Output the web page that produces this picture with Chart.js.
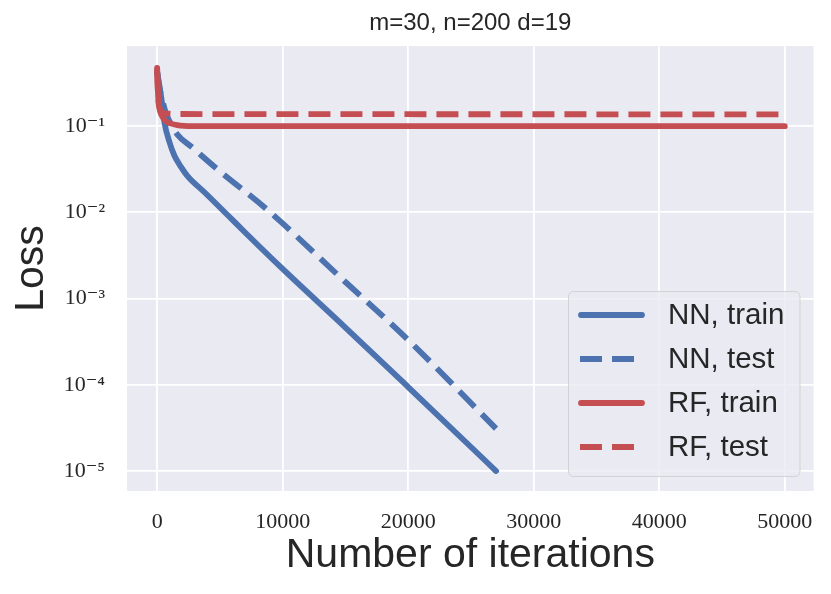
<!DOCTYPE html>
<html>
<head>
<meta charset="utf-8">
<title>Loss vs iterations</title>
<script src="https://cdn.jsdelivr.net/npm/chart.js@4.4.1/dist/chart.umd.min.js"></script>
<style>
  html, body { margin: 0; padding: 0; background: #ffffff; }
  #wrap { width: 831px; height: 594px; position: relative; }
</style>
</head>
<body>
<div id="wrap"><canvas id="lossChart"></canvas></div>
<script>
// --- data ---
const nnTrainIter = [0, 200, 400, 580, 980, 1380, 1900, 2440, 3770, 5630, 7070, 10000, 15000, 20000, 25000, 27000];
const nnTrainLoss = [0.42, 0.28, 0.18, 0.11, 0.065, 0.045, 0.0335, 0.026, 0.017, 0.0092, 0.0057, 0.0022, 4.6e-4, 9.4e-5, 1.9e-5, 1.0e-5];

const nnTestIter = [0, 200, 450, 700, 960, 1590, 2810, 4960, 8660, 15000, 20000, 27000];
const nnTestLoss = [0.42, 0.27, 0.19, 0.14, 0.115, 0.080, 0.056, 0.030, 0.011, 0.00155, 3.3e-4, 3.1e-5];

const rfTrainIter = [0, 40, 100, 200, 320, 500, 750, 1110, 1600, 2170, 3500, 50000];
const rfTrainLoss = [0.47, 0.30, 0.20, 0.155, 0.136, 0.122, 0.112, 0.106, 0.102, 0.100, 0.099, 0.099];

const rfTestIter = [0, 40, 100, 200, 350, 600, 1000, 2000, 50000];
const rfTestLoss = [0.47, 0.30, 0.20, 0.16, 0.145, 0.140, 0.138, 0.137, 0.136];

const seriesLabels = ['NN, train', 'NN, test', 'RF, train', 'RF, test'];
const xTickValues = [0, 10000, 20000, 30000, 40000, 50000];
const yTickValues = [1e-5, 1e-4, 1e-3, 1e-2, 1e-1];
const yTickLabels = ['10\u207B\u2075', '10\u207B\u2074', '10\u207B\u00B3', '10\u207B\u00B2', '10\u207B\u00B9'];
const titleText = 'm=30, n=200 d=19';

// --- style ---
const BLUE = '#4c72b0';
const RED = '#c44e52';
const AXES_BG = '#eaeaf2';
const TEXT = '#262626';
const SANS = '"Liberation Sans", Arial, Helvetica, sans-serif';
const SERIF = '"Liberation Serif", "DejaVu Serif", serif';
const LW = 5.8;
const DASH = [22, 10];

const toPoints = (xs, ys) => xs.map((x, i) => ({ x, y: ys[i] }));

function lineSet(label, xs, ys, color, dashed, order) {
    return {
        label,
        data: toPoints(xs, ys),
        borderColor: color,
        backgroundColor: color,
        borderWidth: LW,
        borderDash: dashed ? DASH : [],
        borderCapStyle: dashed ? 'butt' : 'round',
        borderJoinStyle: 'round',
        pointRadius: 0,
        cubicInterpolationMode: 'monotone',
        fill: false,
        order
    };
}

// axes face colour (seaborn darkgrid)
const axesBgPlugin = {
    id: 'axesBg',
    beforeDraw(chart) {
        const { ctx, chartArea: a } = chart;
        ctx.save();
        ctx.fillStyle = AXES_BG;
        ctx.fillRect(a.left, a.top, a.right - a.left, a.bottom - a.top);
        ctx.restore();
    }
};

// title centred over the plot area, not the whole canvas
const axesTitlePlugin = {
    id: 'axesTitle',
    afterDraw(chart) {
        const { ctx, chartArea: a } = chart;
        ctx.save();
        ctx.font = '24px ' + SANS;
        ctx.fillStyle = TEXT;
        ctx.textAlign = 'center';
        ctx.textBaseline = 'middle';
        ctx.fillText(titleText, (a.left + a.right) / 2, 23);
        ctx.restore();
    }
};

// legend box in the lower right, matplotlib style
const boxLegendPlugin = {
    id: 'boxLegend',
    afterDatasetsDraw(chart) {
        const { ctx } = chart;
        const box = { x: 568.5, y: 291.5, w: 231.5, h: 185, r: 5 };
        ctx.save();
        ctx.beginPath();
        ctx.roundRect(box.x, box.y, box.w, box.h, box.r);
        ctx.fillStyle = 'rgba(234,234,242,0.8)';
        ctx.fill();
        ctx.lineWidth = 1;
        ctx.strokeStyle = 'rgba(204,204,204,0.8)';
        ctx.stroke();

        ctx.font = '29.5px ' + SANS;
        ctx.textBaseline = 'middle';
        ctx.fillStyle = TEXT;
        const rowY = [315, 359, 403, 447];
        chart.data.datasets.forEach((ds, i) => {
            const y = rowY[i];
            ctx.beginPath();
            ctx.strokeStyle = ds.borderColor;
            ctx.lineWidth = ds.borderWidth;
            ctx.setLineDash(ds.borderDash);
            ctx.lineCap = ds.borderCapStyle;
            const dashed = ds.borderDash.length > 0;
            ctx.moveTo(dashed ? 580 : 581, y);
            ctx.lineTo(dashed ? 640 : 642, y);
            ctx.stroke();
            ctx.setLineDash([]);
            ctx.fillText(ds.label, 668, y + 1);
        });
        ctx.restore();
    }
};

const config = {
    type: 'line',
    data: {
        datasets: [
            lineSet(seriesLabels[0], nnTrainIter, nnTrainLoss, BLUE, false, 3),
            lineSet(seriesLabels[1], nnTestIter, nnTestLoss, BLUE, true, 2),
            lineSet(seriesLabels[2], rfTrainIter, rfTrainLoss, RED, false, 1),
            lineSet(seriesLabels[3], rfTestIter, rfTestLoss, RED, true, 0)
        ]
    },
    options: {
        responsive: true,
        maintainAspectRatio: false,
        animation: false,
        layout: { padding: { top: 46, right: 17, bottom: 0, left: 0 } },
        plugins: {
            legend: { display: false },
            title: { display: false },
            tooltip: { enabled: false }
        },
        scales: {
            x: {
                type: 'linear',
                min: -2400,
                max: 52300,
                border: { display: false },
                grid: { color: '#ffffff', lineWidth: 1.8, drawTicks: false },
                ticks: {
                    color: TEXT,
                    font: { family: SERIF, size: 22 },
                    padding: 18,
                    callback: (v) => String(v)
                },
                afterBuildTicks: (scale) => {
                    scale.ticks = xTickValues.map(v => ({ value: v }));
                },
                afterFit: (scale) => { scale.height = 103; },
                title: {
                    display: true,
                    text: 'Number of iterations',
                    color: TEXT,
                    font: { family: SANS, size: 41 },
                    padding: { top: 0, bottom: 14 }
                }
            },
            y: {
                type: 'logarithmic',
                min: 5.87e-6,
                max: 0.841,
                border: { display: false },
                grid: { color: '#ffffff', lineWidth: 1.8, drawTicks: false },
                ticks: {
                    color: TEXT,
                    font: { family: SERIF, size: 22 },
                    padding: 22,
                    callback: (v, i) => yTickLabels[i]
                },
                afterBuildTicks: (scale) => {
                    scale.ticks = yTickValues.map(v => ({ value: v }));
                },
                afterFit: (scale) => { scale.width = 127; },
                title: {
                    display: true,
                    text: 'Loss',
                    color: TEXT,
                    font: { family: SANS, size: 41 },
                    padding: { top: 7, bottom: 0 }
                }
            }
        }
    },
    plugins: [axesBgPlugin, axesTitlePlugin, boxLegendPlugin]
};

const chart = new Chart(document.getElementById('lossChart'), config);
</script>
</body>
</html>
